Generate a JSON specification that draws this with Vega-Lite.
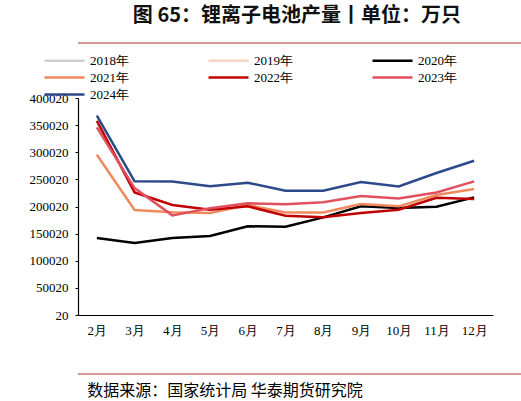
{
  "$schema": "https://vega.github.io/schema/vega-lite/v6.json",
  "padding": {"left": 5, "right": 6, "top": 6, "bottom": 4},
  "title": {
    "text": "图 65：锂离子电池产量丨单位：万只",
    "font": "Noto Sans CJK SC",
    "fontSize": 20,
    "fontWeight": "bold",
    "color": "#111111",
    "anchor": "middle",
    "offset": 16
  },
  "datasets": {
    "prod": [
      {"month": "2月", "year": "2020年", "value": 141900},
      {"month": "3月", "year": "2020年", "value": 132700},
      {"month": "4月", "year": "2020年", "value": 141900},
      {"month": "5月", "year": "2020年", "value": 145600},
      {"month": "6月", "year": "2020年", "value": 163500},
      {"month": "7月", "year": "2020年", "value": 162800},
      {"month": "8月", "year": "2020年", "value": 180000},
      {"month": "9月", "year": "2020年", "value": 200300},
      {"month": "10月", "year": "2020年", "value": 197200},
      {"month": "11月", "year": "2020年", "value": 199600},
      {"month": "12月", "year": "2020年", "value": 216900},
      {"month": "2月", "year": "2021年", "value": 295500},
      {"month": "3月", "year": "2021年", "value": 193500},
      {"month": "4月", "year": "2021年", "value": 189200},
      {"month": "5月", "year": "2021年", "value": 188000},
      {"month": "6月", "year": "2021年", "value": 202800},
      {"month": "7月", "year": "2021年", "value": 189000},
      {"month": "8月", "year": "2021年", "value": 189000},
      {"month": "9月", "year": "2021年", "value": 204600},
      {"month": "10月", "year": "2021年", "value": 200300},
      {"month": "11月", "year": "2021年", "value": 221200},
      {"month": "12月", "year": "2021年", "value": 232300},
      {"month": "2月", "year": "2022年", "value": 358000},
      {"month": "3月", "year": "2022年", "value": 226000},
      {"month": "4月", "year": "2022年", "value": 202800},
      {"month": "5月", "year": "2022年", "value": 194100},
      {"month": "6月", "year": "2022年", "value": 200300},
      {"month": "7月", "year": "2022年", "value": 183100},
      {"month": "8月", "year": "2022年", "value": 180000},
      {"month": "9月", "year": "2022年", "value": 188000},
      {"month": "10月", "year": "2022年", "value": 194000},
      {"month": "11月", "year": "2022年", "value": 216200},
      {"month": "12月", "year": "2022年", "value": 213800},
      {"month": "2月", "year": "2023年", "value": 346000},
      {"month": "3月", "year": "2023年", "value": 234000},
      {"month": "4月", "year": "2023年", "value": 183700},
      {"month": "5月", "year": "2023年", "value": 197000},
      {"month": "6月", "year": "2023年", "value": 205800},
      {"month": "7月", "year": "2023年", "value": 204000},
      {"month": "8月", "year": "2023年", "value": 207700},
      {"month": "9月", "year": "2023年", "value": 219300},
      {"month": "10月", "year": "2023年", "value": 215000},
      {"month": "11月", "year": "2023年", "value": 226000},
      {"month": "12月", "year": "2023年", "value": 246400},
      {"month": "2月", "year": "2024年", "value": 367400},
      {"month": "3月", "year": "2024年", "value": 246400},
      {"month": "4月", "year": "2024年", "value": 246000},
      {"month": "5月", "year": "2024年", "value": 237200},
      {"month": "6月", "year": "2024年", "value": 243900},
      {"month": "7月", "year": "2024年", "value": 229100},
      {"month": "8月", "year": "2024年", "value": 229000},
      {"month": "9月", "year": "2024年", "value": 245000},
      {"month": "10月", "year": "2024年", "value": 237000},
      {"month": "11月", "year": "2024年", "value": 261700},
      {"month": "12月", "year": "2024年", "value": 284400}
    ],
    "line": [{"v": 0}]
  },
  "spacing": 10,
  "columns": 1,
  "resolve": {"legend": {"color": "independent", "strokeWidth": "independent"}},
  "concat": [
    {
      "width": 510,
      "height": 1,
      "data": {"name": "line"},
      "mark": {"type": "rule", "color": "#C97575", "strokeWidth": 1.6},
      "encoding": {
        "y": {"field": "v", "type": "quantitative", "scale": {"domain": [0, 1]}, "axis": null}
      }
    },
    {
      "width": 415,
      "height": 217,
      "data": {"name": "prod"},
      "mark": {"type": "line"},
      "encoding": {
        "x": {
          "field": "month",
          "type": "ordinal",
          "sort": ["2月", "3月", "4月", "5月", "6月", "7月", "8月", "9月", "10月", "11月", "12月"],
          "scale": {"padding": 0.5},
          "axis": {
            "title": null,
            "labelAngle": 0,
            "ticks": false,
            "domainColor": "#000000",
            "domainWidth": 1.2,
            "labelFont": "Liberation Serif",
            "labelFontSize": 13,
            "labelColor": "#000000",
            "labelPadding": 9
          }
        },
        "y": {
          "field": "value",
          "type": "quantitative",
          "scale": {"domain": [20, 400020], "nice": false, "zero": false},
          "axis": {
            "title": ".",
            "titleColor": "#ffffff",
            "titleFontSize": 10,
            "titlePadding": 14,
            "grid": false,
            "values": [20, 50020, 100020, 150020, 200020, 250020, 300020, 350020, 400020],
            "format": "d",
            "tickSize": 3,
            "tickColor": "#000000",
            "domainColor": "#000000",
            "domainWidth": 1.2,
            "labelFont": "Liberation Serif",
            "labelFontSize": 13,
            "labelColor": "#000000",
            "labelPadding": 7
          }
        },
        "color": {
          "field": "year",
          "type": "nominal",
          "scale": {
            "domain": ["2018年", "2019年", "2020年", "2021年", "2022年", "2023年", "2024年"],
            "range": ["#CFCFCF", "#F9D6C4", "#000000", "#F08A5E", "#C00000", "#E0505F", "#2C4A8A"]
          },
          "legend": {
            "title": null,
            "orient": "none",
            "direction": "horizontal",
            "legendX": -35,
            "legendY": -44,
            "columns": 3,
            "symbolType": "M-8.4,0M-1,0H7",
            "symbolSize": 100,
            "labelFont": "Liberation Serif",
            "labelFontSize": 13,
            "labelColor": "#000000",
            "labelOffset": 34,
            "columnPadding": 37,
            "rowPadding": 3
          }
        },
        "strokeWidth": {
          "field": "year",
          "type": "nominal",
          "scale": {
            "domain": ["2018年", "2019年", "2020年", "2021年", "2022年", "2023年", "2024年"],
            "range": [2.5, 2.5, 2.5, 3, 3, 4.5, 4.5]
          },
          "legend": {
            "title": null,
            "orient": "none",
            "direction": "horizontal",
            "legendX": -35,
            "legendY": -44,
            "columns": 3,
            "symbolType": "M-8.4,0M-1,0H7",
            "symbolSize": 100,
            "labelFont": "Liberation Serif",
            "labelFontSize": 13,
            "labelColor": "#000000",
            "labelOffset": 34,
            "columnPadding": 37,
            "rowPadding": 3
          }
        }
      }
    },
    {
      "width": 510,
      "height": 27,
      "data": {"name": "line"},
      "mark": {"type": "rule", "color": "#C97575", "strokeWidth": 1.6},
      "encoding": {
        "y": {"field": "v", "type": "quantitative", "scale": {"domain": [0, 1]}, "axis": null}
      },
      "title": {
        "text": "数据来源：国家统计局 华泰期货研究院",
        "orient": "bottom",
        "anchor": "start",
        "font": "Noto Sans CJK SC",
        "fontSize": 16,
        "fontWeight": "normal",
        "color": "#000000",
        "dx": 10,
        "offset": 8
      }
    }
  ],
  "config": {"view": {"stroke": null}}
}
